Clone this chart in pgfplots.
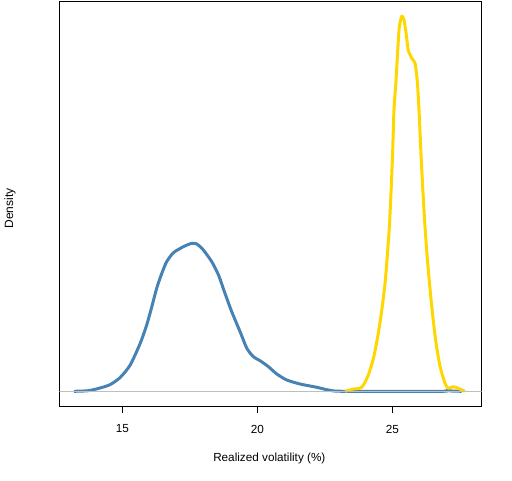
\documentclass[border=0pt]{standalone}
\usepackage{fontspec}
\setmainfont{Liberation Sans}
\usepackage{pgfplots}
\pgfplotsset{compat=1.18}
\definecolor{steel}{HTML}{4682B4}
\definecolor{goldc}{HTML}{FFD700}
\definecolor{lgray}{HTML}{BEBEBE}
\begin{document}
\begin{tikzpicture}[x=1pt,y=1pt]
\useasboundingbox (-44.625pt,-55.5pt) rectangle (339.375pt,304.5pt);
\begin{axis}[
  at={(0,0)}, anchor=south west,
  scale only axis,
  width=316.65pt, height=303.75pt,
  xmin=12.67, xmax=28.31,
  ymin=-14.7, ymax=390.3,
  xtick={15,20,25},
  ytick=\empty,
  tick align=outside,
  xtick pos=bottom,
  major tick length=5.25pt,
  axis line style={line width=0.75pt},
  every tick/.style={black, line width=0.75pt},
  tick label style={font=\fontsize{8.8}{10}\selectfont},
  /pgf/number format/assume math mode=true,
  xticklabel style={anchor=center, yshift=-12pt},
  xlabel={Realized volatility (\%)},
  ylabel={Density},
  every axis x label/.style={at={(axis description cs:0.497,-0.1284)}, anchor=center, font=\fontsize{8.8}{10}\selectfont},
  every axis y label/.style={at={(axis description cs:-0.1172,0.488)}, anchor=center, rotate=90, font=\fontsize{9}{10}\selectfont},
  clip=true,
]
\addplot[steel, line width=2.25pt, line join=round, smooth, tension=0.4] coordinates {
(13.21,0) (13.74,0.6) (14.17,3.3) (14.54,6.6) (14.91,13.6) (15.29,26.3)
(15.66,48) (15.90,66.3) (16.09,84.6) (16.27,103) (16.46,118) (16.64,129.6)
(16.89,138.6) (17.26,144.6) (17.57,148) (17.76,147.3) (18.00,141.3)
(18.31,129.6) (18.56,116.3) (18.80,98) (19.05,79.6) (19.36,59.6)
(19.61,43) (19.85,34.6) (20.10,30.6) (20.41,24.6) (20.72,17.3)
(21.09,11.3) (21.58,7.3) (22.20,4) (22.63,1.3) (23.19,0) (26.8,0) (27.0,0.8) (27.2,0.3) (27.57,0)
};
\addplot[goldc, line width=2.25pt, line join=round, smooth, tension=0.4] coordinates {
(23.25,0) (23.56,2.3) (23.80,3) (23.93,6.3) (24.11,16.3) (24.30,33)
(24.48,58) (24.61,81.3) (24.73,108) (24.81,134.6) (24.89,164.6)
(24.95,198) (25.01,238) (25.06,281.3) (25.13,308) (25.20,341.3)
(25.26,364.6) (25.35,375.3) (25.43,371.3) (25.51,358) (25.59,341.3)
(25.72,333) (25.84,328) (25.93,308) (26.00,274.6) (26.06,238)
(26.13,201.3) (26.21,164.6) (26.30,131.3) (26.40,101.3) (26.50,74.6)
(26.62,48) (26.77,24.6) (26.95,8) (27.07,3) (27.26,4.6) (27.44,3) (27.69,0)
};
\addplot[lgray, line width=0.75pt] coordinates {(12.67,0) (28.31,0)};
\end{axis}
\end{tikzpicture}
\end{document}
